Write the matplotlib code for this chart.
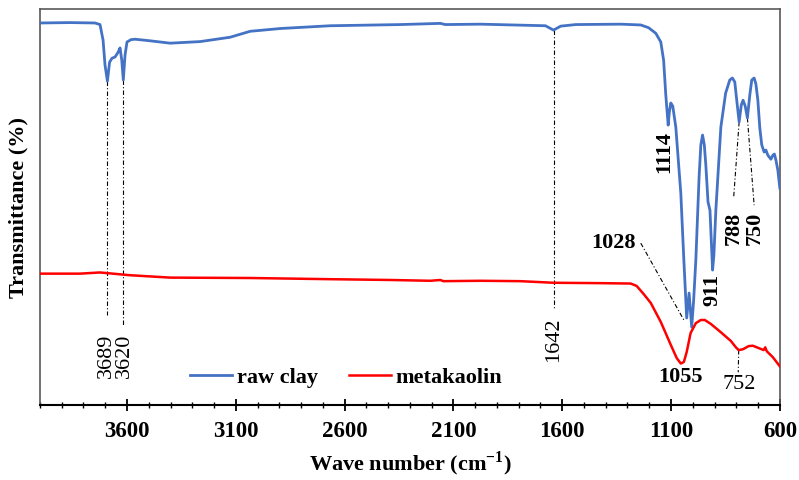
import matplotlib
matplotlib.use("Agg")
import matplotlib.pyplot as plt
from matplotlib.ticker import MultipleLocator

# ---- data ----
raw_wn = [4000, 3862, 3747, 3724, 3710, 3701, 3690, 3680, 3669, 3655, 3641, 3632, 3624, 3617,
          3609, 3600, 3581, 3563, 3494, 3402, 3264, 3126, 3034, 2896, 2666, 2344, 2160, 2137,
          1976, 1677, 1640, 1607, 1538, 1331, 1239, 1203, 1170, 1147, 1134, 1124, 1113, 1108,
          1101, 1092, 1078, 1055, 1041, 1028, 1017, 1005, 996, 986, 971, 963, 955, 947, 940,
          930, 921, 909, 903, 894, 871, 849, 830, 818, 807, 798, 787, 777, 769, 759, 749, 738,
          729, 718, 710, 701, 692, 683, 672, 664, 655, 641, 632, 625, 618, 609, 600]
raw_T = [96.5, 96.6, 96.5, 96.1, 92.2, 85.9, 81.8, 86.6, 87.6, 87.9, 89.1, 90.2, 87.1, 82.1,
         88.4, 91.7, 92.3, 92.4, 92.0, 91.4, 91.8, 92.9, 94.4, 95.1, 95.8, 96.1, 96.4, 96.1,
         96.2, 95.8, 94.7, 95.7, 96.1, 96.2, 96.0, 95.3, 93.9, 91.7, 87.1, 78.3, 70.7, 73.9,
         76.3, 75.5, 70.2, 53.5, 36.6, 22.0, 28.3, 19.7, 26.5, 36.6, 57.6, 65.7, 68.2, 65.7, 60.6,
         51.3, 49.2, 34.1, 37.9, 49.2, 70.2, 78.8, 82.1, 82.6, 81.6, 77.0, 71.5, 75.8, 77.0, 75.5,
         72.5, 78.3, 82.1, 82.6, 81.1, 77.0, 70.0, 65.7, 63.9, 64.4, 63.1, 62.1, 63.1, 63.4, 61.9,
         59.3, 54.8]

meta_wn = [4000, 3816, 3724, 3586, 3402, 3034, 2666, 2390, 2206, 2160, 2146, 1976, 1792, 1640,
           1423, 1285, 1258, 1225, 1193, 1147, 1101, 1074, 1055, 1041, 1028, 1010, 986, 963, 945,
           917, 871, 825, 802, 789, 770, 743, 724, 697, 674, 667, 660, 632, 600]
meta_T = [33.2, 33.2, 33.5, 32.8, 32.2, 32.1, 31.8, 31.6, 31.4, 31.6, 31.3, 31.4, 31.3, 30.9,
          30.8, 30.7, 30.1, 28.0, 25.8, 21.0, 15.2, 11.9, 10.5, 10.9, 13.4, 18.2, 20.7, 21.5, 21.5,
          20.5, 18.4, 16.2, 14.6, 13.9, 14.1, 14.9, 15.0, 14.4, 13.9, 14.6, 13.6, 12.1, 9.8]

series_names = ["raw clay", "metakaolin"]
xticks = [3600, 3100, 2600, 2100, 1600, 1100, 600]

plt.rcParams['font.family'] = ['Liberation Serif', 'DejaVu Serif']
plt.rcParams['mathtext.fontset'] = 'custom'
plt.rcParams['mathtext.rm'] = 'Liberation Serif:bold'
plt.rcParams['mathtext.bf'] = 'Liberation Serif:bold'

fig = plt.figure(figsize=(7.99, 4.80), dpi=100)
ax = fig.add_axes([0.050, 0.156, 0.926, 0.825])

ax.plot(raw_wn, raw_T, color='#4472C4', lw=2.0, label=series_names[0], zorder=3)
ax.plot(meta_wn, meta_T, color='#FF0000', lw=1.8, label=series_names[1], zorder=3)

ax.set_xlim(4000, 600)
ax.set_ylim(0, 100)
ax.set_xticks(xticks)
ax.xaxis.set_minor_locator(MultipleLocator(100))
ax.tick_params(axis='x', which='major', direction='inout', length=9, width=1.3, labelsize=16.5, pad=7)
ax.tick_params(axis='x', which='minor', direction='inout', length=5, width=1.0)
for lab in ax.get_xticklabels():
    lab.set_fontweight('bold')
ax.set_yticks([])

for s in ['top', 'left', 'right']:
    ax.spines[s].set_color('#595959')
    ax.spines[s].set_linewidth(1.2)
ax.spines['bottom'].set_color('black')
ax.spines['bottom'].set_linewidth(1.5)

ax.set_xlabel('Wave number (cm$^{-1}$)', fontsize=16, fontweight='bold', labelpad=5)
ax.set_ylabel('Transmittance (%)', fontsize=16, fontweight='bold', labelpad=8)

lk = dict(color='black', lw=0.8, ls=(0, (4, 2, 1, 2)), zorder=2)
# leader lines
ax.plot([3690, 3690], [81.8, 22.7], **lk)
ax.plot([3617, 3617], [82.1, 20.2], **lk)
ax.plot([1640, 1640], [94.7, 24.0], **lk)
ax.plot([1239, 1041], [40.9, 21.5], **lk)
ax.plot([787, 812], [71.5, 52.5], **lk)
ax.plot([749, 718], [72.5, 50.5], **lk)
ax.plot([789, 791], [13.9, 8.3], **lk)

fs = 16
ax.text(3694, 12.4, '3689', rotation=90, ha='center', va='center', fontsize=fs)
ax.text(3613, 12.4, '3620', rotation=90, ha='center', va='center', fontsize=fs)
ax.text(1640, 16.4, '1642', rotation=90, ha='center', va='center', fontsize=fs)
ax.text(1132, 63.9, '1114', rotation=90, ha='center', va='center', fontsize=fs, fontweight='bold')
ax.text(1262, 40.9, '1028', ha='right', va='center', fontsize=fs, fontweight='bold')
ax.text(909, 29.0, '911', rotation=90, ha='center', va='center', fontsize=fs, fontweight='bold')
ax.text(812, 44.7, '788', rotation=90, ha='center', va='center', fontsize=fs, fontweight='bold')
ax.text(715, 44.7, '750', rotation=90, ha='center', va='center', fontsize=fs, fontweight='bold')
ax.text(1055, 7.1, '1055', ha='center', va='center', fontsize=fs, fontweight='bold')
ax.text(789, 5.1, '752', ha='center', va='center', fontsize=fs)

ax.legend(loc='center left', bbox_to_anchor=(0.203, 0.07), ncol=2, frameon=False,
          handlelength=1.9, handletextpad=0.2, columnspacing=1.4,
          prop={'weight': 'bold', 'size': 16}, borderaxespad=0, borderpad=0)

fig.savefig('out.png', dpi=100)
